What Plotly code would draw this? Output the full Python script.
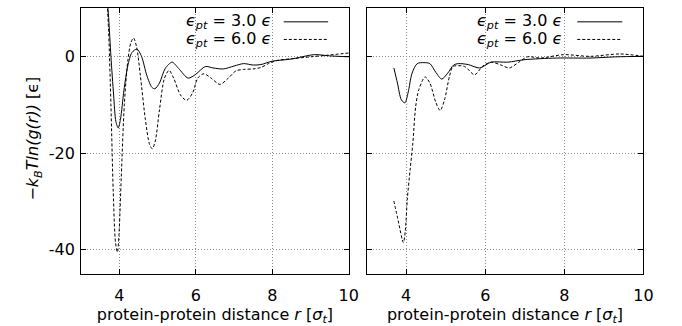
import plotly.graph_objects as go

# ---- data ----
left_solid_r = [3.68, 3.72, 3.78, 3.85, 3.91, 3.97, 4.03, 4.12, 4.22, 4.33, 4.46, 4.58, 4.72, 4.85, 4.93,
                5.05, 5.2, 5.38, 5.55, 5.8, 6.0, 6.25, 6.45, 6.72, 7.0, 7.25, 7.5, 7.7, 8.0, 8.5, 9.1, 9.5, 10.0]
left_solid_v = [12, 8, 0, -8, -13.5, -14.8, -13, -7, -2, 0.8, 1.5, 0, -4, -6.4, -6.7,
                -5.5, -2.5, -1.2, -2.5, -4.5, -3.7, -2.1, -2.4, -2.6, -2.0, -1.5, -1.8, -1.7, -1.0, -0.55, 0.35, 0.1, -0.1]

left_dash_r = [3.66, 3.72, 3.78, 3.84, 3.9, 3.95, 3.99, 4.05, 4.13, 4.22, 4.3, 4.37, 4.45, 4.55, 4.68, 4.79,
               4.86, 4.94, 5.05, 5.18, 5.3, 5.42, 5.6, 5.76, 5.92, 6.05, 6.21, 6.4, 6.63, 6.85, 7.05, 7.25,
               7.5, 7.7, 7.9, 8.1, 8.5, 9.0, 9.4, 10.0]
left_dash_v = [14, 5, -10, -28, -38.5, -40.5, -37, -25, -10, -1, 2.8, 3.8, 2, -4, -13, -18.2,
               -19.1, -17.5, -11, -4.5, -2.9, -4.5, -8, -9.1, -7.5, -4.5, -3.6, -4.5, -5.8, -4.5, -3, -2.7,
               -2.6, -2.3, -1.5, -0.9, -0.5, -0.1, 0.2, 0.7]

right_solid_r = [3.69, 3.78, 3.88, 3.97, 4.05, 4.15, 4.28, 4.45, 4.6, 4.75, 4.9, 5.05, 5.2, 5.32, 5.57,
                 5.86, 6.15, 6.57, 6.98, 7.8, 8.65, 9.3, 10.0]
right_solid_v = [-2.4, -5.5, -9, -9.6, -7.5, -3.5, -1.5, -1.3, -1.5, -3.3, -4.7, -3.5, -1.8, -1.5, -1.7,
                 -2.4, -1.2, -1.2, -0.7, -0.35, -0.35, -0.1, 0]

right_dash_r = [3.69, 3.8, 3.93, 3.98, 4.03, 4.1, 4.17, 4.24, 4.32, 4.48, 4.6, 4.75, 4.86, 4.97, 5.1, 5.19,
                5.48, 5.73, 5.94, 6.15, 6.4, 6.61, 6.85, 7.07, 7.4, 7.98, 8.65, 9.4, 10.0]
right_dash_v = [-29.9, -34, -38.5, -36, -29.5, -23.5, -17.9, -10.5, -6.9, -4.25, -5.5, -9.5, -11.2, -9, -4, -2.1,
                -2.1, -3.8, -2, -1.2, -1.8, -2.4, -1.2, -0.1, -0.35, 0.35, 0, 0.5, 0]

x_ticks = [4, 6, 8, 10]
y_ticks = [0, -20, -40]
y_ticklabels = ["0", "-20", "-40"]
legend_labels = ["<i>ϵ<sub>pt</sub></i> = 3.0 <i>ϵ</i>", "<i>ϵ<sub>pt</sub></i> = 6.0 <i>ϵ</i>"]

FONT = "DejaVu Sans"
FS = 16
DASH = "3px,2px"

fig = go.Figure()
for r, v, dash, xa, ya in [
    (left_solid_r, left_solid_v, "solid", "x", "y"),
    (left_dash_r, left_dash_v, DASH, "x", "y"),
    (right_solid_r, right_solid_v, "solid", "x2", "y2"),
    (right_dash_r, right_dash_v, DASH, "x2", "y2"),
]:
    fig.add_trace(go.Scatter(x=r, y=v, mode="lines", xaxis=xa, yaxis=ya, showlegend=False,
                             line=dict(color="black", width=1, dash=dash, shape="spline", smoothing=0.8)))

axis_common = dict(showline=True, linecolor="black", linewidth=1, mirror="ticks",
                   ticks="inside", ticklen=5, tickcolor="black",
                   showgrid=True, gridcolor="#8a8a8a", griddash="1px,2px", gridwidth=1,
                   zeroline=False, tickfont=dict(family=FONT, size=FS, color="black"))

xtitle = dict(text="protein-protein distance <i>r</i> [<i>σ<sub>t</sub></i>]",
              font=dict(family=FONT, size=FS, color="black"), standoff=5)

fig.update_layout(
    width=682, height=326, margin=dict(l=0, r=0, t=0, b=0),
    paper_bgcolor="white", plot_bgcolor="white",
    xaxis=dict(domain=[0.1207, 0.519], range=[3, 10], tickvals=x_ticks, anchor="y", title=xtitle,
               ticklabelstandoff=7, **axis_common),
    yaxis=dict(domain=[0.1595, 0.9755], range=[-45, 10], tickvals=y_ticks, ticktext=y_ticklabels,
               anchor="x", ticklabelstandoff=2, **axis_common),
    xaxis2=dict(domain=[0.5455, 0.9575], range=[3, 10], tickvals=x_ticks, anchor="y2", title=xtitle,
                ticklabelstandoff=7, **axis_common),
    yaxis2=dict(domain=[0.1595, 0.9755], range=[-45, 10], tickvals=y_ticks, showticklabels=False,
                anchor="x2", **axis_common),
)

# y-axis title
fig.add_annotation(text="−<i>k<sub>B</sub>Tln(g(r))</i> [ϵ]", xref="paper", yref="paper",
                   x=0.032, y=0.575, textangle=-90, showarrow=False,
                   font=dict(family=FONT, size=FS, color="black"))

# legends (text + sample lines) in each panel
legend_rows_y = [0.933, 0.879]
for text_x, l0, l1 in [(0.406, 0.4223, 0.4883), (0.839, 0.859, 0.926)]:
    for i, lab in enumerate(legend_labels):
        fig.add_annotation(text=lab, xref="paper", yref="paper", x=text_x, y=legend_rows_y[i],
                           xanchor="right", yanchor="middle", showarrow=False,
                           font=dict(family=FONT, size=FS, color="black"))
        fig.add_shape(type="line", xref="paper", yref="paper", x0=l0, x1=l1,
                      y0=legend_rows_y[i], y1=legend_rows_y[i],
                      line=dict(color="black", width=1, dash="solid" if i == 0 else DASH))

fig.write_html("out.html")
